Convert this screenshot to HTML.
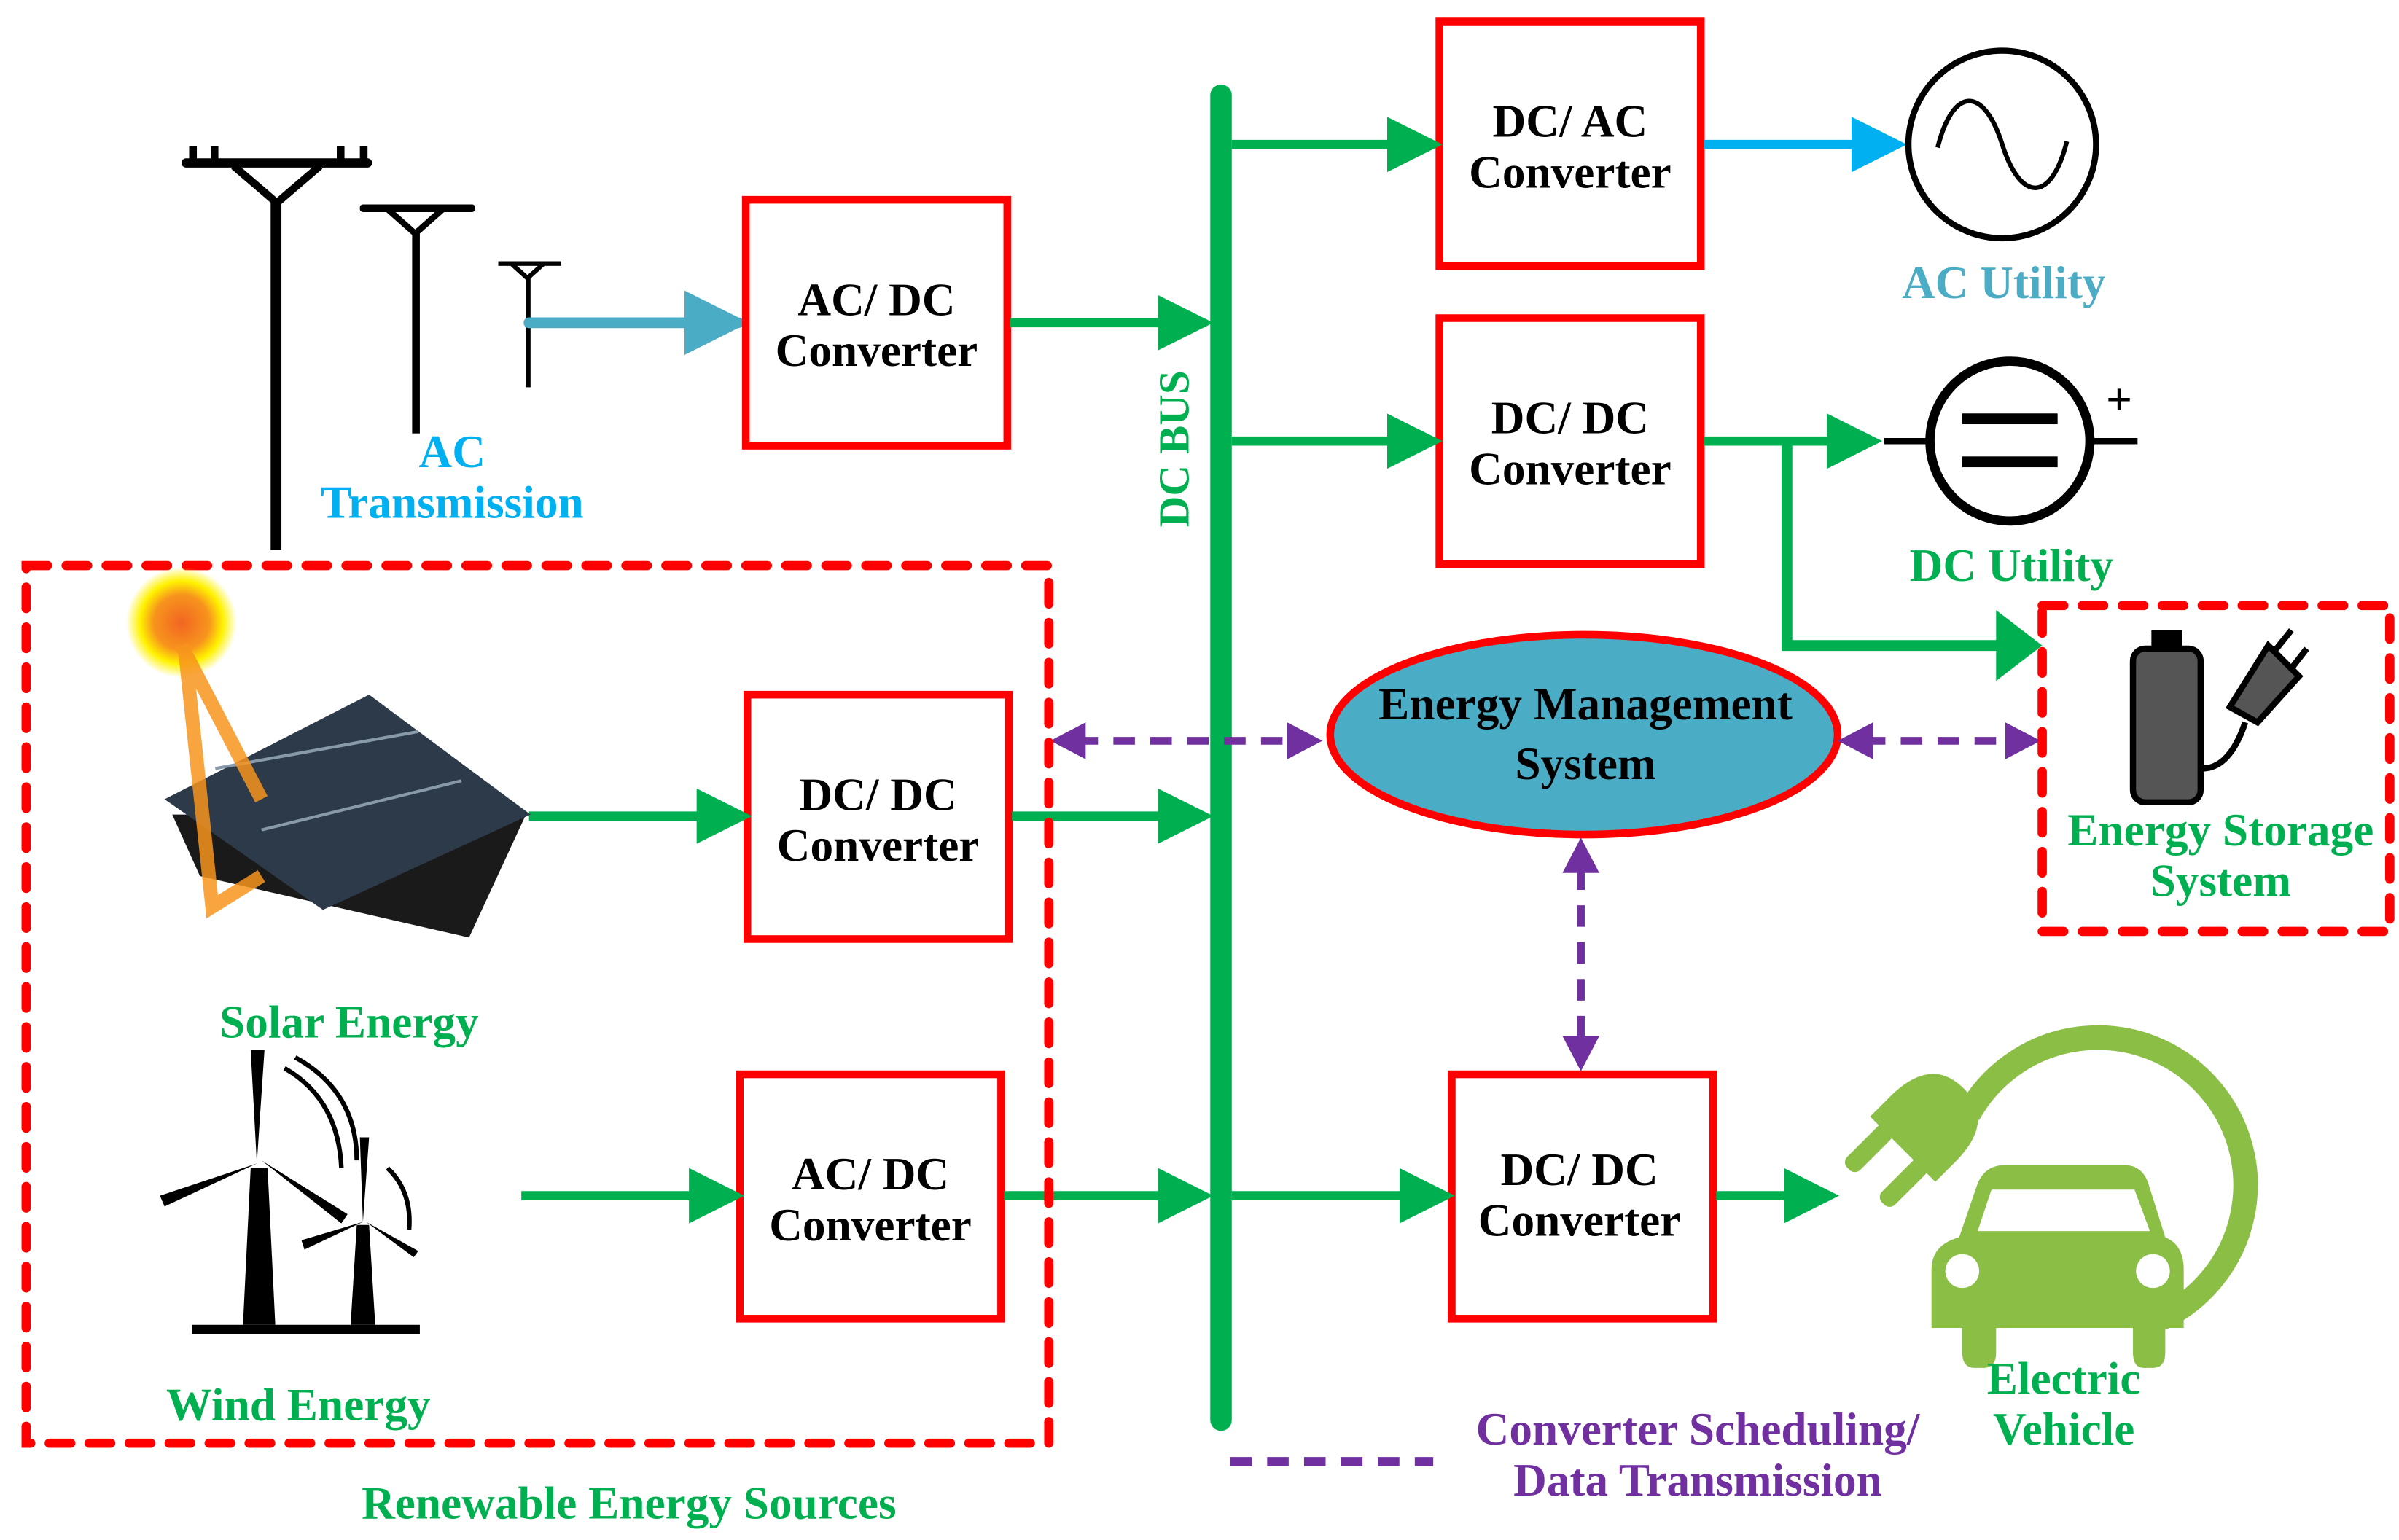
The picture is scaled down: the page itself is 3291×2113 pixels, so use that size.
<!DOCTYPE html>
<html><head><meta charset="utf-8"><style>
html,body{margin:0;padding:0;background:#fff}
svg{display:block}
text{font-family:"Liberation Serif",serif;font-weight:bold}
</style></head><body>
<svg width="3291" height="2113" viewBox="0 0 1560 1002" preserveAspectRatio="none" xmlns="http://www.w3.org/2000/svg">
<defs>
<marker id="ga" markerWidth="6" markerHeight="6" refX="5" refY="3" orient="auto" markerUnits="strokeWidth"><path d="M0,0 L6,3 L0,6 Z" fill="#00b050"/></marker>
<marker id="ba" markerWidth="6" markerHeight="6" refX="5" refY="3" orient="auto" markerUnits="strokeWidth"><path d="M0,0 L6,3 L0,6 Z" fill="#00b0f0"/></marker>
<marker id="ta" markerWidth="6" markerHeight="6" refX="5" refY="3" orient="auto" markerUnits="strokeWidth"><path d="M0,0 L6,3 L0,6 Z" fill="#4bacc6"/></marker>
<radialGradient id="sun"><stop offset="0" stop-color="#f26522"/><stop offset="0.5" stop-color="#f7941d"/><stop offset="0.75" stop-color="#fff200"/><stop offset="1" stop-color="#fff200" stop-opacity="0"/></radialGradient>
</defs>

<!-- transmission towers -->
<g fill="#000" stroke="#000">
<rect x="176" y="130" width="7" height="228" stroke="none"/>
<rect x="118" y="103" width="124" height="6" rx="3" stroke="none"/>
<rect x="123" y="95" width="5" height="10" stroke="none"/><rect x="137" y="95" width="5" height="10" stroke="none"/>
<rect x="219" y="95" width="5" height="10" stroke="none"/><rect x="234" y="95" width="5" height="10" stroke="none"/>
<path d="M152,108 L180,132 L208,108" fill="none" stroke-width="5"/>
<rect x="268" y="150" width="5" height="132" stroke="none"/>
<rect x="234" y="133" width="75" height="5" rx="2" stroke="none"/>
<path d="M252,136 L270,152 L288,136" fill="none" stroke-width="4"/>
<rect x="342" y="180" width="3" height="72" stroke="none"/>
<rect x="324" y="170" width="41" height="3" stroke="none"/>
<path d="M333,172 L343,181 L353,172" fill="none" stroke-width="3"/>
</g>
<text x="294" y="304" font-size="30" fill="#00b0f0" text-anchor="middle">AC</text>
<text x="294" y="337" font-size="30" fill="#00b0f0" text-anchor="middle">Transmission</text>
<line x1="344" y1="210" x2="480" y2="210" stroke="#4bacc6" stroke-width="7" stroke-linecap="round" marker-end="url(#ta)"/>

<!-- DC bus -->
<line x1="794" y1="62" x2="794" y2="924" stroke="#00b050" stroke-width="14" stroke-linecap="round"/>
<text transform="translate(773,292) rotate(-90)" font-size="28" fill="#00b050" text-anchor="middle">DC BUS</text>

<!-- converters -->
<g fill="#fff" stroke="#ff0000" stroke-width="5">
<rect x="485" y="130" width="170" height="160"/>
<rect x="936" y="14" width="170" height="159"/>
<rect x="936" y="207" width="170" height="160"/>
<rect x="486" y="452" width="170" height="159"/>
<rect x="481" y="699" width="170" height="159"/>
<rect x="944" y="699" width="170" height="159"/>
</g>
<g font-size="30" fill="#000" text-anchor="middle">
<text x="570" y="205">AC/ DC</text><text x="570" y="238">Converter</text>
<text x="1021" y="89">DC/ AC</text><text x="1021" y="122">Converter</text>
<text x="1021" y="282">DC/ DC</text><text x="1021" y="315">Converter</text>
<text x="571" y="527">DC/ DC</text><text x="571" y="560">Converter</text>
<text x="566" y="774">AC/ DC</text><text x="566" y="807">Converter</text>
<text x="1027" y="771">DC/ DC</text><text x="1027" y="804">Converter</text>
</g>

<!-- green arrows -->
<g stroke="#00b050" stroke-width="6" fill="none">
<line x1="657" y1="210" x2="783" y2="210" marker-end="url(#ga)"/>
<line x1="801" y1="94" x2="932" y2="94" marker-end="url(#ga)"/>
<line x1="801" y1="287" x2="932" y2="287" marker-end="url(#ga)"/>
<line x1="1108" y1="287" x2="1218" y2="287" marker-end="url(#ga)"/>
<polyline points="1162,287 1162,420 1300,420" stroke-width="7"/>
<line x1="344" y1="531" x2="483" y2="531" marker-end="url(#ga)"/>
<line x1="658" y1="531" x2="783" y2="531" marker-end="url(#ga)"/>
<line x1="339" y1="778" x2="478" y2="778" marker-end="url(#ga)"/>
<line x1="653" y1="778" x2="783" y2="778" marker-end="url(#ga)"/>
<line x1="801" y1="778" x2="940" y2="778" marker-end="url(#ga)"/>
<line x1="1116" y1="778" x2="1190" y2="778" marker-end="url(#ga)"/>
</g>
<path d="M1298,397 L1328,420 L1298,443 Z" fill="#00b050"/>
<line x1="1108" y1="94" x2="1234" y2="94" stroke="#00b0f0" stroke-width="6" marker-end="url(#ba)"/>

<!-- AC utility -->
<circle cx="1302" cy="94" r="61" fill="none" stroke="#000" stroke-width="4"/>
<path d="M1260,96 C1270,56 1290,56 1302,94 C1314,132 1334,132 1344,92" fill="none" stroke="#000" stroke-width="3"/>
<text x="1303" y="194" font-size="30" fill="#4bacc6" text-anchor="middle">AC Utility</text>

<!-- DC utility -->
<line x1="1225" y1="287" x2="1390" y2="287" stroke="#000" stroke-width="4"/>
<circle cx="1307" cy="287" r="52" fill="#fff" stroke="#000" stroke-width="6"/>
<rect x="1276" y="269" width="62" height="7" fill="#000"/><rect x="1276" y="297" width="62" height="7" fill="#000"/>
<text x="1378" y="270" font-size="30" fill="#000" text-anchor="middle">+</text>
<text x="1308" y="378" font-size="30" fill="#00b050" text-anchor="middle">DC Utility</text>

<!-- EMS -->
<ellipse cx="1030" cy="478" rx="165" ry="65" fill="#4bacc6" stroke="#ff0000" stroke-width="5"/>
<text x="1031" y="468" font-size="30" fill="#000" text-anchor="middle">Energy Management</text>
<text x="1031" y="507" font-size="30" fill="#000" text-anchor="middle">System</text>

<!-- purple dashed -->
<g stroke="#7030a0" stroke-width="5" stroke-dasharray="14,10" fill="none">
<line x1="700" y1="482" x2="842" y2="482"/>
<line x1="1212" y1="482" x2="1310" y2="482"/>
<line x1="1028" y1="565" x2="1028" y2="678"/>
<line x1="800" y1="951" x2="932" y2="951" stroke-width="6"/>
</g>
<g fill="#7030a0">
<path d="M683,482 L706,470 L706,494 Z"/><path d="M860,482 L837,470 L837,494 Z"/>
<path d="M1195,482 L1218,470 L1218,494 Z"/><path d="M1327,482 L1304,470 L1304,494 Z"/>
<path d="M1028,545 L1016,568 L1040,568 Z"/><path d="M1028,697 L1016,674 L1040,674 Z"/>
</g>
<text x="1104" y="940" font-size="30" fill="#7030a0" text-anchor="middle">Converter Scheduling/</text>
<text x="1104" y="973" font-size="30" fill="#7030a0" text-anchor="middle">Data Transmission</text>

<!-- Renewable box -->
<rect x="17" y="368" width="665" height="571" fill="none" stroke="#ff0000" stroke-width="6" stroke-dasharray="14,12" stroke-linecap="round"/>
<text x="409" y="988" font-size="30" fill="#00b050" text-anchor="middle">Renewable Energy Sources</text>

<!-- solar -->
<circle cx="118" cy="405" r="36" fill="url(#sun)"/>
<path d="M112,530 L342,530 L305,610 L130,570 Z" fill="#1a1a1a"/>
<path d="M107,520 L240,452 L345,530 L210,592 Z" fill="#2c3a4a"/>
<path d="M140,500 L272,476 M170,540 L300,508" stroke="#8899aa" stroke-width="2"/>
<path d="M118,420 L170,520 M120,420 L138,590 L170,570" stroke="#f7941d" stroke-width="9" fill="none" opacity="0.85"/>
<text x="227" y="675" font-size="30" fill="#00b050" text-anchor="middle">Solar Energy</text>

<!-- wind -->
<g fill="#000">
<rect x="125" y="862" width="148" height="6"/>
<path d="M163,760 L174,760 L179,862 L158,862 Z"/>
<path d="M167,757 L163,683 L172,683 Z"/>
<path d="M167,757 L107,785 L104,778 Z"/>
<path d="M170,755 L226,790 L222,796 Z"/>
<path d="M232,797 L240,797 L244,862 L228,862 Z"/>
<path d="M236,795 L234,740 L240,740 Z"/>
<path d="M236,795 L198,813 L196,807 Z"/>
<path d="M238,795 L272,814 L269,818 Z"/>
</g>
<g fill="none" stroke="#000" stroke-width="3">
<path d="M185,695 Q220,715 222,760"/><path d="M192,688 Q232,710 232,755"/>
<path d="M252,760 Q268,775 266,800"/>
</g>
<text x="194" y="924" font-size="30" fill="#00b050" text-anchor="middle">Wind Energy</text>

<!-- storage -->
<rect x="1328" y="394" width="226" height="212" fill="none" stroke="#ff0000" stroke-width="6" stroke-dasharray="14,12" stroke-linecap="round"/>
<rect x="1387" y="422" width="44" height="100" rx="8" fill="#555" stroke="#000" stroke-width="4"/>
<rect x="1399" y="410" width="20" height="14" fill="#000"/>
<path d="M1432,500 Q1450,500 1460,470" stroke="#000" stroke-width="4" fill="none"/>
<path d="M1450,460 L1475,420 L1495,440 L1468,470 Z" fill="#555" stroke="#000" stroke-width="4"/>
<path d="M1478,425 L1490,410 M1490,435 L1500,422" stroke="#000" stroke-width="4"/>
<text x="1444" y="550" font-size="30" fill="#00b050" text-anchor="middle">Energy Storage</text>
<text x="1444" y="583" font-size="30" fill="#00b050" text-anchor="middle">System</text>

<!-- EV -->
<path d="M1280,725 A96,96 0 1 1 1405,858" fill="none" stroke="#8bbe45" stroke-width="16"/>
<g transform="translate(1250,735) rotate(-45)" fill="#8bbe45">
<path d="M0,-30 L-18,-30 L-18,30 L0,30 Q38,30 38,0 Q38,-30 0,-30 Z"/>
<rect x="-52" y="-22" width="38" height="12" rx="5"/>
<rect x="-52" y="10" width="38" height="12" rx="5"/>
</g>
<g fill="#8bbe45">
<path d="M1274,805 L1286,770 Q1291,758 1304,758 L1381,758 Q1393,758 1397,770 L1408,805 Q1420,810 1420,826 L1420,864 L1408,864 L1408,880 Q1408,890 1400,890 L1394,890 Q1387,890 1387,880 L1387,864 L1298,864 L1298,880 Q1298,890 1290,890 L1284,890 Q1276,890 1276,880 L1276,864 L1256,864 L1256,826 Q1256,810 1274,805 Z"/>
</g>
<path d="M1295,774 L1388,774 L1398,801 L1286,801 Z" fill="#fff"/>
<circle cx="1276" cy="827" r="11" fill="#fff"/><circle cx="1400" cy="827" r="11" fill="#fff"/>
<text x="1342" y="907" font-size="30" fill="#00b050" text-anchor="middle">Electric</text>
<text x="1342" y="940" font-size="30" fill="#00b050" text-anchor="middle">Vehicle</text>
</svg>
</body></html>
